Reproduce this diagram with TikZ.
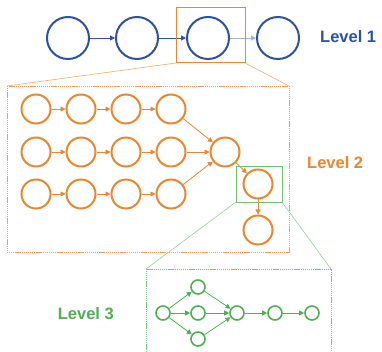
\documentclass[tikz,border=0pt]{standalone}
\usepackage{fontspec}
\setmainfont{Liberation Sans}
\usetikzlibrary{arrows.meta}
\definecolor{lblue}{RGB}{44,82,160}
\definecolor{lorange}{RGB}{232,135,50}
\definecolor{lgreen}{RGB}{78,176,80}
\tikzset{
  c1/.style={circle,draw=lblue,line width=2pt,minimum size=42pt,inner sep=0pt},
  c2/.style={circle,draw=lorange,line width=2pt,minimum size=29pt,inner sep=0pt},
  c3/.style={circle,draw=lgreen,line width=1.6pt,minimum size=14pt,inner sep=0pt},
  a1/.style={draw=lblue,line width=0.9pt,-{Triangle[length=5pt,width=5pt]}},
  a2/.style={draw=lorange,line width=0.8pt,-{Triangle[length=5pt,width=5pt]}},
  a3/.style={draw=lgreen,line width=0.8pt,-{Triangle[length=5pt,width=5pt]}},
  lbl/.style={font=\bfseries\fontsize{16.5}{18}\selectfont,inner sep=0pt},
  dotbox/.style={line width=0.8pt,dash pattern=on 1.3pt off 0.8pt},
}
\begin{document}
\begin{tikzpicture}[x=1pt,y=-1pt]
\useasboundingbox (0,0) rectangle (382,352);
% Level 1
\node[c1] (l1a) at (68,38) {};
\node[c1] (l1b) at (137,38) {};
\node[c1] (l1c) at (208,38) {};
\node[c1] (l1d) at (278,38) {};
\draw[a1] (l1a) -- (l1b);
\draw[a1] (l1b) -- (l1c);
\draw[a1,draw=lblue!45] (l1c) -- (l1d);
\node[lbl,text=lblue,anchor=west] (t1) at (320,37) {Level 1};
% zoom box level 1 -> 2
\draw[lorange,line width=1pt] (176,8) rectangle (245,63);
\coordinate (z1l) at (176,63);
\coordinate (z1r) at (245,63);
\coordinate (b2l) at (7,86);
\coordinate (b2r) at (289,86);
\draw[lorange!70,line width=0.6pt] (z1l) -- (b2l);
\draw[lorange!70,line width=0.6pt] (z1r) -- (b2r);
\draw[lorange!80,dotbox] (7,86) rectangle (289,252);
% Level 2
\foreach \r/\y in {1/109,2/152,3/194}{
  \foreach \c/\x in {1/36,2/81,3/126,4/171}{
    \node[c2] (n\r\c) at (\x,\y) {};
  }
  \draw[a2] (n\r1) -- (n\r2);
  \draw[a2] (n\r2) -- (n\r3);
  \draw[a2] (n\r3) -- (n\r4);
}
\node[c2] (m2) at (225,152) {};
\node[c2] (g2) at (258,184) {};
\node[c2] (e2) at (258,230) {};
\draw[a2] (n14) -- (m2);
\draw[a2] (n24) -- (m2);
\draw[a2] (n34) -- (m2);
\draw[a2] (m2) -- (g2);
\draw[a2] (g2) -- (e2);
\node[lbl,text=lorange,anchor=west] (t2) at (307,163) {Level 2};
% zoom box level 2 -> 3
\draw[lgreen!80,line width=0.9pt] (236,166) rectangle (282,202);
\coordinate (z2l) at (236,202);
\coordinate (z2r) at (282,202);
\coordinate (b3l) at (146,269);
\coordinate (b3r) at (331,269);
\draw[lgreen!60,line width=0.6pt] (z2l) -- (b3l);
\draw[lgreen!60,line width=0.6pt] (z2r) -- (b3r);
\draw[lgreen!75,dotbox] (146,356) -- (146,269) -- (331,269) -- (331,356);
% Level 3
\node[c3] (s3) at (163,313) {};
\node[c3] (u3) at (198,287) {};
\node[c3] (v3) at (198,313) {};
\node[c3] (w3) at (198,339) {};
\node[c3] (m3) at (237,313) {};
\node[c3] (p3) at (275,313) {};
\node[c3] (q3) at (312,313) {};
\draw[a3] (s3) -- (u3);
\draw[a3] (s3) -- (v3);
\draw[a3] (s3) -- (w3);
\draw[a3] (u3) -- (m3);
\draw[a3] (v3) -- (m3);
\draw[a3] (w3) -- (m3);
\draw[a3] (m3) -- (p3);
\draw[a3] (p3) -- (q3);
\node[lbl,text=lgreen,anchor=east] (t3) at (114,314) {Level 3};
\end{tikzpicture}
\end{document}
